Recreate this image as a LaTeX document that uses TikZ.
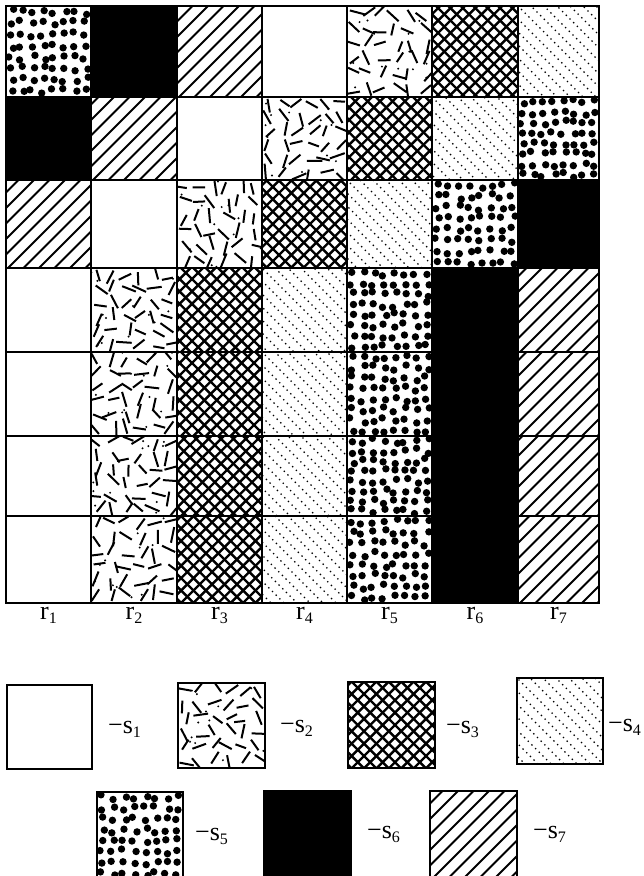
\documentclass[tikz,border=0pt]{standalone}
\usepackage{fontspec}
\setmainfont{Liberation Serif}
\tikzset{
  gridline/.style={line width=2.2pt, line cap=rect},
  boxline/.style={line width=2.2pt},
  hatchline/.style={line width=1.8pt},
  crossline/.style={line width=2.4pt},
  dotline/.style={line width=1.9pt, line cap=round, dash pattern=on 0pt off 5.2pt},
  dashseg/.style={line width=2pt},
  lbl/.style={anchor=base, inner sep=0pt, font=\fontsize{26}{30}\selectfont},
  legendlbl/.style={anchor=base west, inner sep=0pt, font=\fontsize{26}{30}\selectfont}
}
\newcommand{\lowidx}[1]{\raisebox{-4pt}{\fontsize{16}{16}\selectfont #1}}
\newcommand{\patblack}[4]{\fill[black] (#1,#2) rectangle (#3,#4);}
\newcommand{\pathatch}[4]{%
  \begin{scope}
    \clip (#1,#2) rectangle (#3,#4);
    \foreach \k in {-7,...,7}{\draw[hatchline] ({#1+\k*15.5},{#4+2}) -- ++(110,-110);}
  \end{scope}}
\newcommand{\patcross}[4]{%
  \begin{scope}
    \clip (#1,#2) rectangle (#3,#4);
    \foreach \k in {-9,...,9}{
      \draw[crossline] ({#1+\k*12.4+3},{#4+1}) -- ++(110,-110);
      \draw[crossline] ({#1+\k*12.4+3},{#2-1}) -- ++(110,110);}
  \end{scope}}
\newcommand{\patdotted}[4]{%
  \begin{scope}
    \clip (#1,#2) rectangle (#3,#4);
    \foreach \k in {-9,...,9}{
      \pgfmathsetmacro\dph{rnd*5}
      \draw[dotline, dash phase=\dph pt] ({#1+\k*13},{#2}) -- ++(110,110);}
  \end{scope}}
\newcommand{\patdots}[4]{%
  \begin{scope}
    \clip (#1,#2) rectangle (#3,#4);
    \foreach \i in {0,...,7}{\foreach \j in {0,...,7}{
      \pgfmathsetmacro\dx{#1+(\i+0.5)*(#3-#1)/8+2.8*rand}
      \pgfmathsetmacro\dy{#2+(\j+0.5)*(#4-#2)/8+2.8*rand}
      \fill (\dx,\dy) circle (3.7pt);}}
  \end{scope}}
\newcommand{\patdash}[4]{%
  \begin{scope}
    \clip (#1,#2) rectangle (#3,#4);
    \foreach \i in {0,...,5}{\foreach \j in {0,...,5}{
      \pgfmathsetmacro\cx{#1+(\i+0.5)*(#3-#1)/6+4*rand}
      \pgfmathsetmacro\cy{#2+(\j+0.5)*(#4-#2)/6+4*rand}
      \pgfmathsetmacro\ang{rnd*180}
      \pgfmathsetmacro\angb{\ang+180}
      \pgfmathsetmacro\len{5.5+rnd*2.5}
      \pgfmathsetmacro\dl{2*\len}
      \draw[dashseg] (\cx,\cy) ++(\ang:\len pt) -- ++(\angb:\dl pt);}}
    \foreach \n in {1,...,12}{
      \pgfmathsetmacro\cx{#1+rnd*(#3-#1)}
      \pgfmathsetmacro\cy{#2+rnd*(#4-#2)}
      \fill (\cx,\cy) circle (1.1pt);}
  \end{scope}}
\newcommand{\drawpat}[5]{%
  \ifcase#1\relax\or\relax\or\patdash{#2}{#3}{#4}{#5}\or\patcross{#2}{#3}{#4}{#5}\or
  \patdotted{#2}{#3}{#4}{#5}\or\patdots{#2}{#3}{#4}{#5}\or\patblack{#2}{#3}{#4}{#5}\or
  \pathatch{#2}{#3}{#4}{#5}\fi}
\def\colx{{6,91,177,262,347,432,518,599}}
\def\rowy{{6,97,180,268,352,436,516,603}}
\begin{document}
\begin{tikzpicture}[x=1pt,y=-1pt]
  \pgfmathsetseed{4711}
  \useasboundingbox (0,0) rectangle (643,876);
  \fill[white] (0,0) rectangle (643,876);
  % grid cells
  \foreach \r in {0,...,6}{
    \foreach \c in {0,...,6}{
      \pgfmathtruncatemacro\cn{\c+1}
      \pgfmathtruncatemacro\rn{\r+1}
      \pgfmathsetmacro\xa{\colx[\c]}
      \pgfmathsetmacro\xb{\colx[\cn]}
      \pgfmathsetmacro\ya{\rowy[\r]}
      \pgfmathsetmacro\yb{\rowy[\rn]}
      \pgfmathtruncatemacro\p{mod(\c+min(\r,3)+4,7)+1}
      \drawpat{\p}{\xa}{\ya}{\xb}{\yb}
    }
  }
  % grid lines
  \foreach \i in {0,...,7}{
    \pgfmathsetmacro\gx{\colx[\i]}
    \pgfmathsetmacro\gy{\rowy[\i]}
    \draw[gridline] (\gx,6) -- (\gx,603);
    \draw[gridline] (6,\gy) -- (599,\gy);
  }
  % column labels
  \foreach \c in {1,...,7}{
    \pgfmathtruncatemacro\cm{\c-1}
    \pgfmathsetmacro\la{\colx[\cm]}
    \pgfmathsetmacro\lb{\colx[\c]}
    \pgfmathsetmacro\lx{(\la+\lb)/2}
    \node[lbl] (r\c) at (\lx,619) {r\lowidx{\c}};
  }
  % legend
  \foreach \s/\xa/\ya/\xb/\yb/\lx/\ly in {
      1/7/685/92/769/108/733,
      2/178/683/265/768/280/732,
      3/348/682/435/768/446/733,
      4/517/678/603/764/608/731,
      5/97/792/183/879/195/840,
      6/264/791/351/879/367/838,
      7/430/791/517/879/533/838}{
    \drawpat{\s}{\xa}{\ya}{\xb}{\yb}
    \draw[boxline] (\xa,\ya) rectangle (\xb,\yb);
    \node[legendlbl] (s\s) at (\lx,\ly) {−s\lowidx{\s}};
  }
\end{tikzpicture}
\end{document}
